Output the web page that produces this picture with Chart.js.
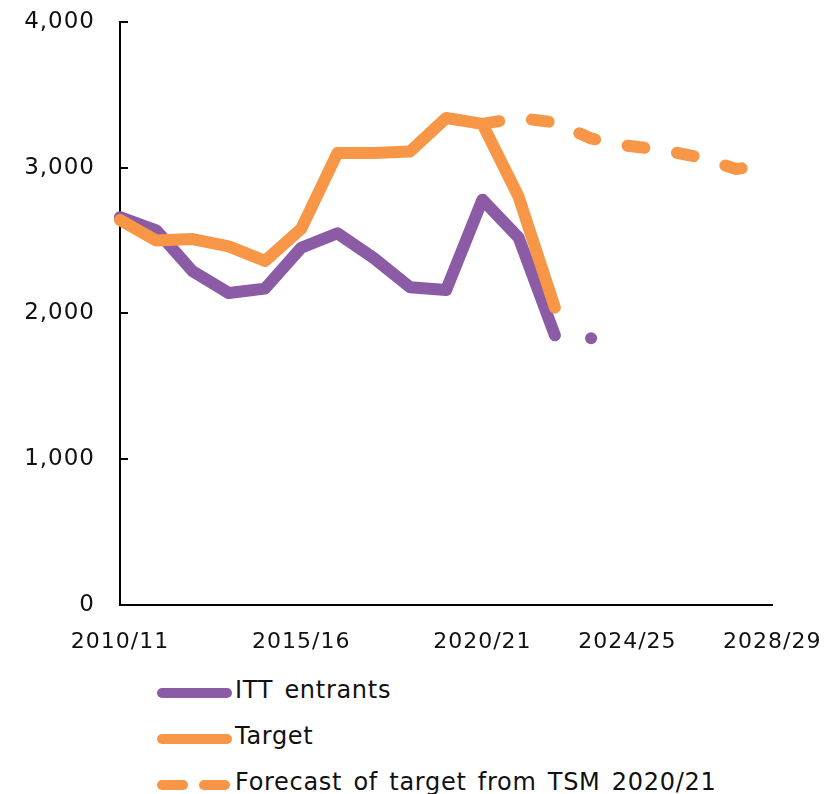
<!DOCTYPE html>
<html>
<head>
<meta charset="utf-8">
<script src="https://cdn.jsdelivr.net/npm/chart.js@4"></script>
<style>
  html, body { margin: 0; background: #fff; font-family: "DejaVu Sans", sans-serif; overflow: hidden; }
  #wrap { position: relative; width: 834px; height: 674px; margin-top: -9px; }
  #legend { position: absolute; left: 157px; top: 672px; width: 670px; }
  .row { position: relative; height: 46px; font-size: 24px; letter-spacing: 0.7px; word-spacing: 3px; color: #111; white-space: nowrap; }
  .row span { position: absolute; left: 78px; top: 4px; }
  .swatch { position: absolute; left: 0; top: 16px; width: 75px; height: 10px; border-radius: 5px; }
  .dash { position: absolute; top: 16px; width: 31px; height: 10px; border-radius: 5px; background: #F79646; }
</style>
</head>
<body>
<div id="wrap"><canvas id="myChart"></canvas></div>
<div id="legend">
  <div class="row"><div class="swatch" style="background:#8B5BA5"></div><span>ITT entrants</span></div>
  <div class="row"><div class="swatch" style="background:#F79646"></div><span>Target</span></div>
  <div class="row"><div class="dash" style="left:0"></div><div class="dash" style="left:42px"></div><span>Forecast of target from TSM 2020/21</span></div>
</div>
<script>
const years = ["2010/11", "2011/12", "2012/13", "2013/14", "2014/15", "2015/16", "2016/17",
  "2017/18", "2018/19", "2019/20", "2020/21", "2021/22", "2022/23", "2023/24", "2024/25",
  "2025/26", "2026/27", "2027/28", "2028/29"];
const shownYears = ["2010/11", "2015/16", "2020/21", "2024/25", "2028/29"];

const ittEntrants = [2660, 2570, 2290, 2140, 2170, 2450, 2550, 2380, 2180, 2160, 2780, 2520, 1850,
  null, null, null, null, null, null];
const ittLatest = [null, null, null, null, null, null, null, null, null, null, null, null, null,
  1830, null, null, null, null, null];
const target = [2640, 2500, 2510, 2460, 2360, 2580, 3100, 3100, 3110, 3340, 3300, 2800, 2040,
  null, null, null, null, null, null];
const forecast = [null, null, null, null, null, null, null, null, null, null, 3300, 3340, 3310,
  3200, 3150, 3120, 3070, 2990, 3020];

const purple = "#8B5BA5";
const orange = "#F79646";

// excel style tick marks pointing into the plot
const innerTicks = {
  id: "innerTicks",
  afterDraw(chart) {
    const ctx = chart.ctx;
    const y = chart.scales.y;
    ctx.save();
    ctx.strokeStyle = "#000";
    ctx.lineWidth = 2;
    y.ticks.forEach(t => {
      const py = Math.round(y.getPixelForValue(t.value));
      ctx.beginPath();
      ctx.moveTo(y.right, py);
      ctx.lineTo(y.right + 8, py);
      ctx.stroke();
    });
    ctx.restore();
  }
};

const spacing = {
  id: "spacing",
  beforeDraw(chart) { chart.ctx.letterSpacing = "1px"; }
};

const ctx = document.getElementById("myChart").getContext("2d");
new Chart(ctx, {
  type: "line",
  data: {
    labels: years,
    datasets: [
      {
        label: "ITT entrants",
        data: ittEntrants,
        borderColor: purple,
        borderWidth: 12,
        pointRadius: 0,
        order: 3
      },
      {
        label: "ITT entrants latest",
        data: ittLatest,
        borderColor: purple,
        backgroundColor: purple,
        showLine: false,
        pointRadius: 6,
        pointBorderWidth: 0,
        order: 3
      },
      {
        label: "Target",
        data: target,
        borderColor: orange,
        borderWidth: 12,
        pointRadius: 0,
        order: 2
      },
      {
        label: "Forecast of target from TSM 2020/21",
        data: forecast,
        borderColor: orange,
        borderWidth: 12,
        borderDash: [17, 33],
        pointRadius: 0,
        order: 1
      }
    ]
  },
  options: {
    responsive: true,
    maintainAspectRatio: false,
    animation: false,
    datasets: {
      line: { tension: 0, borderCapStyle: "round", borderJoinStyle: "round", spanGaps: false }
    },
    layout: { padding: { top: 4, right: 51, left: 0, bottom: 0 } },
    plugins: { legend: { display: false }, tooltip: { enabled: false } },
    scales: {
      x: {
        offset: false,
        grid: { display: false },
        border: { display: true, color: "#000", width: 2 },
        ticks: {
          autoSkip: false,
          maxRotation: 0,
          padding: 16,
          color: "#111",
          font: { family: "DejaVu Sans", size: 22 },
          callback: (v, i) => shownYears.includes(years[i]) ? years[i] : ""
        },
        afterFit: s => { s.height = 60; }
      },
      y: {
        min: 0,
        max: 4000,
        grid: { display: false },
        border: { display: true, color: "#000", width: 2 },
        ticks: {
          stepSize: 1000,
          padding: 17,
          color: "#111",
          font: { family: "DejaVu Sans", size: 23 },
          callback: v => v.toLocaleString("en-US")
        },
        afterFit: s => { s.width = 120; }
      }
    }
  },
  plugins: [spacing, innerTicks]
});
</script>
</body>
</html>
